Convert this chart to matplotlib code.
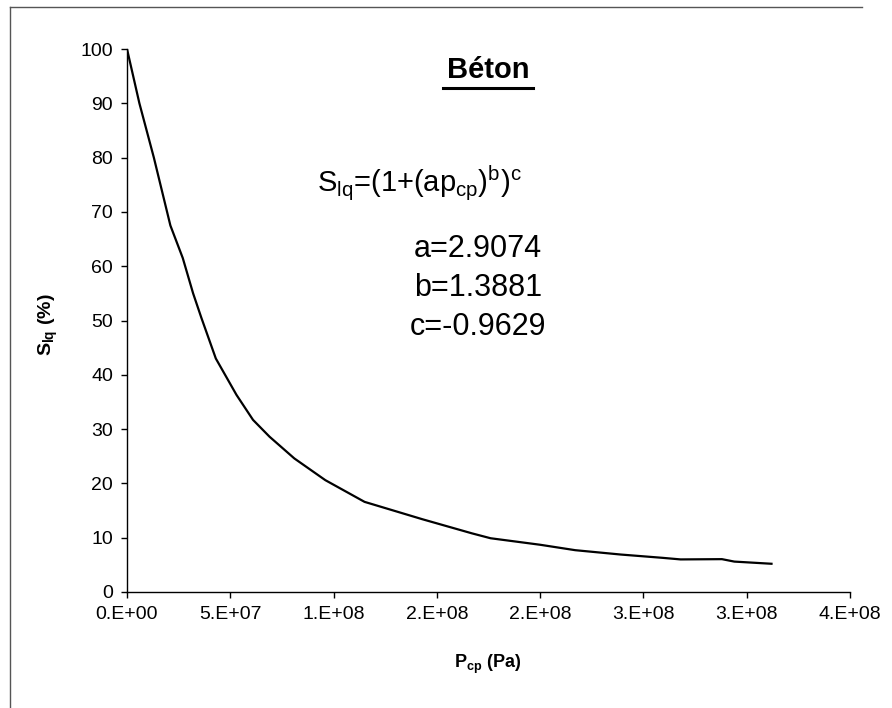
import matplotlib
matplotlib.use("Agg")
import matplotlib.pyplot as plt
from matplotlib.lines import Line2D
import numpy as np

plt.rcParams["font.family"] = ["Liberation Sans", "DejaVu Sans"]
plt.rcParams["mathtext.fontset"] = "custom"
plt.rcParams["mathtext.rm"] = "Liberation Sans"
plt.rcParams["mathtext.it"] = "Liberation Sans"
plt.rcParams["mathtext.bf"] = "Liberation Sans:bold"

# pressure (Pa) vs S_lq (%)
p_cp = np.array([0, 6, 13, 21, 27, 32, 36, 43, 53, 61, 69, 81, 96, 115, 143,
                 167, 176, 200, 217, 239, 259, 268, 288, 294, 312]) * 1e6
s_lq = np.array([100, 90, 80, 67.5, 61.5, 55, 50.5, 43, 36.3, 31.7, 28.6, 24.6,
                 20.6, 16.6, 13.4, 10.8, 9.9, 8.7, 7.7, 6.9, 6.3, 6.0, 6.05,
                 5.6, 5.2])

x_ticks = np.arange(0, 3.5e8 + 1, 5e7)
x_labels = ["0.E+00", "5.E+07", "1.E+08", "2.E+08", "2.E+08", "3.E+08",
            "3.E+08", "4.E+08"]
y_ticks = np.arange(0, 101, 10)
params = ["a=2.9074", "b=1.3881", "c=-0.9629"]

fig = plt.figure(figsize=(8.92, 7.08), dpi=100)
ax = fig.add_axes([127 / 892, 1 - 592 / 708, (850 - 127) / 892, (592 - 49) / 708])

ax.plot(p_cp, s_lq, color="black", lw=1.6)

ax.set_xlim(0, 3.5e8)
ax.set_ylim(0, 100)
ax.set_xticks(x_ticks)
ax.set_xticklabels(x_labels)
ax.set_yticks(y_ticks)
ax.tick_params(direction="out", length=4, width=1, labelsize=14, pad=6)
ax.spines["top"].set_visible(False)
ax.spines["right"].set_visible(False)
for s in ["left", "bottom"]:
    ax.spines[s].set_linewidth(1)

# axis titles
fig.text(488 / 892, 1 - 664 / 708, r"$\mathbf{P_{cp}}$ (Pa)", ha="center", va="center",
         fontsize=13, fontweight="bold")
fig.text(48 / 892, 1 - 325 / 708, r"$\mathbf{S_{lq}}$ (%)", ha="center", va="center",
         fontsize=14, fontweight="bold", rotation=90)

# title and fit annotations
fig.text(488 / 892, 1 - 70 / 708, "Béton", ha="center", va="center",
         fontsize=21, fontweight="bold")
fig.add_artist(Line2D([443 / 892, 533 / 892], [1 - 88 / 708, 1 - 88 / 708],
                      color="black", lw=2.2))
formula = (r"S$_{\mathregular{lq}}$=(1+(ap$_{\mathregular{cp}}$)"
           r"$^{\mathregular{b}}$)$^{\mathregular{c}}$")
fig.text(317 / 892, 1 - 183 / 708, formula, ha="left", va="center", fontsize=21)
for i, t in enumerate(params):
    fig.text(478 / 892, 1 - (249 + 39 * i) / 708, t, ha="center", va="center",
             fontsize=22)

# frame of the scanned figure
fig.add_artist(Line2D([10 / 892, 10 / 892], [0, 1 - 7 / 708], color="#555555", lw=1))
fig.add_artist(Line2D([10 / 892, 862 / 892], [1 - 7 / 708, 1 - 7 / 708],
                      color="#555555", lw=1))

fig.savefig("out.png", dpi=100)
